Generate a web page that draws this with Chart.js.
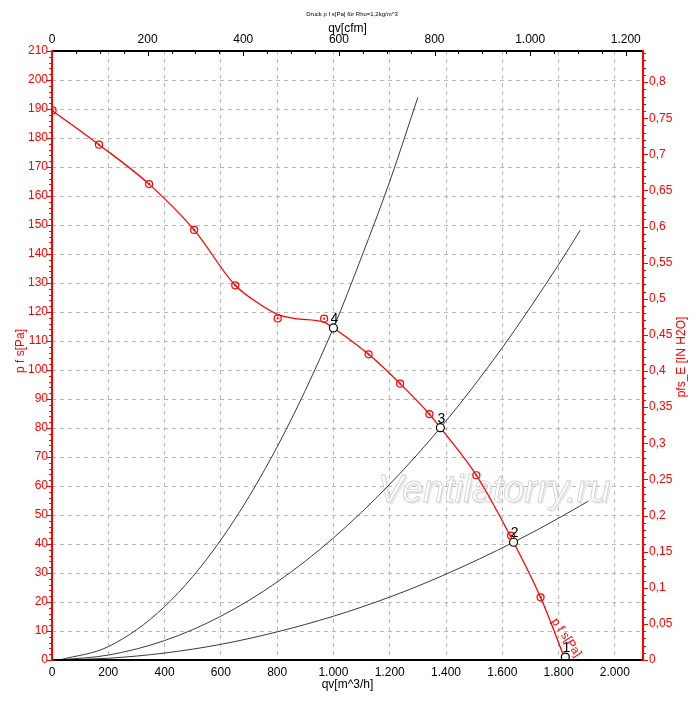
<!DOCTYPE html>
<html><head><meta charset="utf-8">
<script src="https://cdn.jsdelivr.net/npm/chart.js@4.4.1/dist/chart.umd.min.js"></script>
<style>html,body{margin:0;padding:0;background:#fff;}#wrap{width:700px;height:702px;position:relative}</style>
</head><body><div id="wrap"><canvas id="c" width="700" height="702"></canvas></div>
<script>
// ---- data ----
const curveQv = [0,167,345,505,651,740,802,865,966,1000,1125,1237,1341,1380,1508,1640,1736,1824];
const curvePf = [189.5,177.7,164.1,148.3,129.2,122.6,119.2,117.7,116.5,114.5,105.4,95.3,84.8,80.1,63.7,40.6,21.6,0];
const pointQv = [2,167,345,505,651,802,967,1125,1237,1341,1508,1631,1736];
const pointPf = [189.5,177.7,164.1,148.3,129.2,117.8,117.7,105.4,95.3,84.8,63.7,42.9,21.6];
const opQv = [1824,1640,1380,1000];
const opPf = [1,40.6,80.1,114.5];
const opLabels = ['1','2','3','4'];
const sys1Qv = [30,200,400,600,800,1000,1100,1200,1300];
const sys1Pf = [0.1,4.6,18.4,41.4,73.5,114.5,139,165,194];
const sys2Qv = [30,200,400,600,800,1000,1200,1400,1600,1800,1877];
const sys2Pf = [0.04,1.7,6.7,15.1,26.9,42.1,60.6,82.4,107.7,136.3,148.2];
const sys3Qv = [30,200,400,600,800,1000,1200,1400,1640,1800,1906];
const sys3Pf = [0.01,0.6,2.4,5.4,9.7,15.1,21.7,29.6,40.6,48.9,54.8];
const xTicks = [0,200,400,600,800,1000,1200,1400,1600,1800,2000];
const cfmTicks = [0,200,400,600,800,1000,1200];
const inTicks = [0,0.05,0.1,0.15,0.2,0.25,0.3,0.35,0.4,0.45,0.5,0.55,0.6,0.65,0.7,0.75,0.8];
const xMax = 2100, yMax = 210;
const m3hPerCfm = 1.699, paPerInH2O = 249.089;
const titleText = 'Druck p f s[Pa] für Rho=1,2kg/m^3';

const RED = '#ff0000';
const FONT = 'Liberation Sans';
Chart.defaults.font.family = FONT;

function pts(xs, ys){ return xs.map((x,i)=>({x:x,y:ys[i]})); }
function fmtDot(v){ v=Math.round(v); if(v>=1000){ const r=v%1000; return Math.floor(v/1000)+'.'+String(r).padStart(3,'0'); } return String(v); }
function fmtComma(v){ const r=Math.round(v*100)/100; return String(r).replace('.',','); }
function setTicks(arr){ return function(s){ s.ticks = arr.map(v=>({value:v})); }; }

const deco = {
  id:'deco',
  beforeDatasetsDraw(chart){
    const ctx=chart.ctx, a=chart.chartArea;
    ctx.save();
    ctx.beginPath(); ctx.rect(a.left,a.top,a.right-a.left,a.bottom-a.top); ctx.clip();
    ctx.font='italic 38px '+FONT;
    ctx.textBaseline='alphabetic'; ctx.textAlign='left';
    ctx.fillStyle='rgba(215,215,215,0.5)';
    ctx.fillText('Ventilatorry.ru',380,504);
    ctx.fillStyle='rgba(255,255,255,0.9)';
    ctx.fillText('Ventilatorry.ru',378,502);
    ctx.strokeStyle='#cfcfcf'; ctx.lineWidth=0.8;
    ctx.strokeText('Ventilatorry.ru',378,502);
    ctx.restore();
  },
  afterDatasetsDraw(chart){
    const ctx=chart.ctx, xs=chart.scales.x, ys=chart.scales.y;
    ctx.save();
    ctx.fillStyle='#000'; ctx.font='14px '+FONT; ctx.textAlign='center'; ctx.textBaseline='middle';
    opQv.forEach((q,i)=>{
      ctx.fillText(opLabels[i], xs.getPixelForValue(q)+1, ys.getPixelForValue(opPf[i])-9);
    });
    const lx = xs.getPixelForValue(1780)+1, ly = ys.getPixelForValue(14);
    ctx.translate(lx,ly); ctx.rotate(56*Math.PI/180);
    ctx.fillStyle=RED; ctx.font='12px '+FONT; ctx.textAlign='left'; ctx.textBaseline='middle';
    ctx.fillText('p f s[Pa]',0,0);
    ctx.restore();
  },
  afterDraw(chart){
    const ctx=chart.ctx, a=chart.chartArea;
    const xs=chart.scales.x, ys=chart.scales.y, x2=chart.scales.x2, y2=chart.scales.y2;
    ctx.save();
    ctx.lineWidth=1;
    ctx.strokeStyle=RED;
    ctx.beginPath();
    for(let v=0; v<=yMax; v+=2){
      const y=Math.round(ys.getPixelForValue(v))+0.5;
      const len = (v%10===0)?5:3;
      ctx.moveTo(a.left-len,y); ctx.lineTo(a.left,y);
    }
    const y2max=yMax/paPerInH2O;
    for(let k=0; k*0.01<=y2max+1e-9; k++){
      const y=Math.round(y2.getPixelForValue(k*0.01))+0.5;
      const len=(k%5===0)?5:3;
      ctx.moveTo(a.right,y); ctx.lineTo(a.right+len,y);
    }
    ctx.stroke();
    ctx.strokeStyle='#000';
    ctx.beginPath();
    const x2max=xMax/m3hPerCfm;
    for(let v=0; v<=x2max; v+=50){
      const x=Math.round(x2.getPixelForValue(v))+0.5;
      const len=(v%200===0)?5:3;
      ctx.moveTo(x,a.top); ctx.lineTo(x,a.top+len);
    }
    ctx.stroke();
    ctx.lineWidth=2;
    ctx.strokeStyle='#000';
    ctx.beginPath(); ctx.moveTo(a.left,a.top); ctx.lineTo(a.right,a.top); ctx.stroke();
    ctx.beginPath(); ctx.moveTo(a.left,a.bottom); ctx.lineTo(a.right,a.bottom); ctx.stroke();
    ctx.strokeStyle=RED;
    ctx.beginPath(); ctx.moveTo(a.left,a.top-1); ctx.lineTo(a.left,a.bottom+1); ctx.stroke();
    ctx.beginPath(); ctx.moveTo(a.right,a.top-1); ctx.lineTo(a.right,a.bottom+1); ctx.stroke();
    ctx.textAlign='center'; ctx.textBaseline='middle';
    ctx.fillStyle='#000';
    ctx.font='6px '+FONT; ctx.fillText(titleText,352,14);
    ctx.font='12px '+FONT;
    ctx.fillText('qv[cfm]',(a.left+a.right)/2,29);
    ctx.fillText('qv[m^3/h]',(a.left+a.right)/2,685);
    ctx.fillStyle=RED;
    ctx.save(); ctx.translate(21,351); ctx.rotate(-Math.PI/2); ctx.fillText('p f s[Pa]',0,0); ctx.restore();
    ctx.save(); ctx.translate(682,357); ctx.rotate(-Math.PI/2); ctx.fillText('pfs_E [IN H2O]',0,0); ctx.restore();
    ctx.restore();
  }
};

new Chart(document.getElementById('c'),{
  type:'line',
  data:{datasets:[
    {label:'op', type:'scatter', data:pts(opQv,opPf), showLine:false, pointRadius:4, pointBorderWidth:1.2, pointBorderColor:'#000', pointBackgroundColor:'#fff'},
    {label:'ptsDot', type:'scatter', data:pts(pointQv,pointPf), showLine:false, pointRadius:1.1, pointBorderWidth:0, pointBackgroundColor:RED},
    {label:'pts', type:'scatter', data:pts(pointQv,pointPf), showLine:false, pointRadius:3.5, pointBorderWidth:1.2, pointBorderColor:RED, pointBackgroundColor:'rgba(255,255,255,0)'},
    {label:'pfs', data:pts(curveQv,curvePf), borderColor:RED, borderWidth:1.3, pointRadius:0, fill:false, cubicInterpolationMode:'monotone'},
    {label:'s1', data:pts(sys1Qv,sys1Pf), borderColor:'#3a3a3a', borderWidth:1, pointRadius:0, fill:false, cubicInterpolationMode:'monotone'},
    {label:'s2', data:pts(sys2Qv,sys2Pf), borderColor:'#3a3a3a', borderWidth:1, pointRadius:0, fill:false, cubicInterpolationMode:'monotone'},
    {label:'s3', data:pts(sys3Qv,sys3Pf), borderColor:'#3a3a3a', borderWidth:1, pointRadius:0, fill:false, cubicInterpolationMode:'monotone'}
  ]},
  options:{
    responsive:false, animation:false, events:[],
    layout:{padding:0},
    plugins:{legend:{display:false},tooltip:{enabled:false},title:{display:false}},
    scales:{
      x:{type:'linear',position:'bottom',min:0,max:xMax,
        afterBuildTicks:setTicks(xTicks),
        ticks:{color:'#000',font:{size:12},padding:5,maxRotation:0,autoSkip:false,callback:v=>fmtDot(v)},
        grid:{color:'#b8b8b8',lineWidth:1,drawTicks:false},
        border:{display:false,dash:[4,4]},
        afterFit(s){s.height=42;}},
      x2:{type:'linear',position:'top',min:0,max:xMax/m3hPerCfm,
        afterBuildTicks:setTicks(cfmTicks),
        ticks:{color:'#000',font:{size:12},padding:4,maxRotation:0,autoSkip:false,callback:v=>fmtDot(v)},
        grid:{display:false,drawTicks:false},border:{display:false},
        afterFit(s){s.height=51;}},
      y:{type:'linear',position:'left',min:0,max:yMax,
        ticks:{stepSize:10,color:RED,font:{size:12},padding:4,autoSkip:false},
        grid:{color:'#b8b8b8',lineWidth:1,drawTicks:false},
        border:{display:false,dash:[4,4]},
        afterFit(s){s.width=52;}},
      y2:{type:'linear',position:'right',min:0,max:yMax/paPerInH2O,
        afterBuildTicks:setTicks(inTicks),
        ticks:{color:RED,font:{size:12},padding:6,autoSkip:false,callback:v=>fmtComma(v)},
        grid:{display:false,drawTicks:false},border:{display:false},
        afterFit(s){s.width=57;}}
    }
  },
  plugins:[deco]
});
</script></body></html>
